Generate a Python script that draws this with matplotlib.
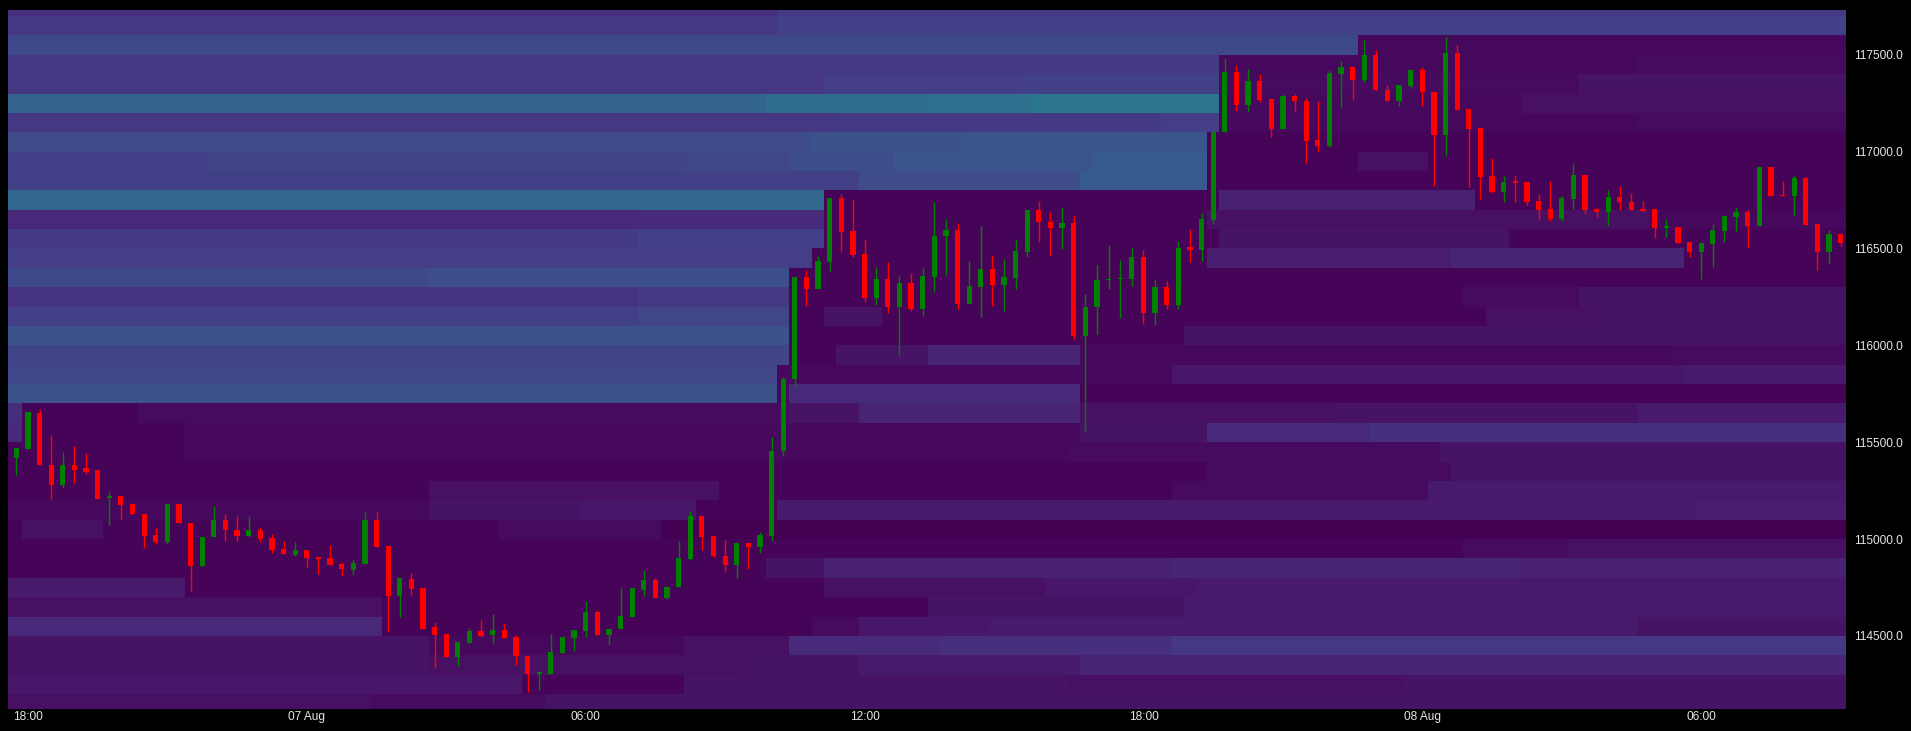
import numpy as np
import matplotlib
matplotlib.use("Agg")
import matplotlib.pyplot as plt
import matplotlib.dates as mdates
from datetime import datetime, timedelta

# ---------------- candle data (15-minute candles) ----------------
start_time = datetime(2025, 8, 6, 17, 45)
opens = [115416, 115463, 115652, 115385, 115277, 115380, 115366, 115356, 115211, 115220,
         115183, 115132, 115023, 114987, 115183, 115084, 114859, 115009, 115101, 115049,
         115015, 115049, 115008, 114951, 114920, 114946, 114903, 114904, 114873, 114842,
         114873, 115101, 114966, 114704, 114796, 114749, 114544, 114511, 114392, 114466,
         114527, 114503, 114532, 114497, 114397, 114306, 114306, 114414, 114490, 114528,
         114625, 114506, 114534, 114599, 114739, 114790, 114694, 114752, 114899, 115121,
         115015, 114914, 114864, 114980, 114958, 115018, 115453, 115825, 116352, 116290,
         116432, 116761, 116592, 116469, 116245, 116342, 116199, 116324, 116187, 116355,
         116562, 116595, 116212, 116302, 116393, 116312, 116349, 116483, 116698, 116635,
         116604, 116631, 116049, 116200, 116335, 116340, 116345, 116454, 116169, 116302,
         116207, 116509, 116493, 116648, 117100, 117410, 117241, 117366, 117272, 117117,
         117286, 117262, 117060, 117028, 117402, 117436, 117371, 117500, 117319, 117259,
         117341, 117422, 117307, 117086, 117510, 117221, 117122, 116876, 116790, 116845,
         116841, 116747, 116704, 116652, 116755, 116879, 116704, 116690, 116764, 116741,
         116704, 116704, 116607, 116609, 116531, 116483, 116523, 116590, 116664, 116690,
         116614, 116919, 116776, 116773, 116864, 116626, 116483, 116574]
highs = [115471, 115659, 115673, 115535, 115449, 115483, 115442, 115359, 115244, 115228,
         115183, 115132, 115059, 115183, 115183, 115084, 115013, 115171, 115132, 115118,
         115118, 115065, 115028, 114992, 114987, 114946, 114903, 114970, 114880, 114899,
         115142, 115142, 114966, 114797, 114825, 114749, 114571, 114511, 114470, 114540,
         114580, 114615, 114566, 114504, 114397, 114316, 114511, 114497, 114532, 114678,
         114635, 114537, 114752, 114746, 114842, 114801, 114752, 114989, 115147, 115121,
         115018, 114994, 114980, 114980, 115037, 115528, 115838, 116352, 116390, 116459,
         116761, 116781, 116755, 116549, 116407, 116428, 116359, 116376, 116397, 116742,
         116652, 116630, 116437, 116617, 116466, 116445, 116549, 116698, 116747, 116686,
         116712, 116673, 116264, 116414, 116517, 116442, 116500, 116493, 116345, 116333,
         116540, 116600, 116681, 117100, 117483, 117448, 117424, 117402, 117272, 117298,
         117298, 117276, 117259, 117422, 117466, 117436, 117578, 117526, 117345, 117345,
         117422, 117436, 117307, 117591, 117552, 117221, 117122, 116967, 116876, 116879,
         116841, 116781, 116850, 116769, 116941, 116879, 116707, 116802, 116824, 116786,
         116745, 116704, 116652, 116609, 116531, 116531, 116626, 116666, 116712, 116698,
         116919, 116919, 116850, 116879, 116867, 116626, 116597, 116574]
lows = [115333, 115463, 115380, 115209, 115263, 115290, 115337, 115209, 115075, 115096,
        115127, 114953, 114977, 114973, 115082, 114734, 114859, 115009, 114989, 114989,
        115011, 114985, 114928, 114921, 114911, 114854, 114820, 114868, 114811, 114816,
        114870, 114959, 114523, 114596, 114713, 114537, 114337, 114389, 114346, 114466,
        114497, 114459, 114492, 114351, 114211, 114222, 114306, 114414, 114423, 114494,
        114506, 114451, 114534, 114599, 114708, 114694, 114690, 114752, 114894, 114946,
        114906, 114828, 114799, 114846, 114928, 114989, 115428, 115790, 116204, 116290,
        116385, 116480, 116454, 116224, 116207, 116169, 115950, 116178, 116149, 116273,
        116362, 116187, 116212, 116147, 116204, 116178, 116290, 116454, 116531, 116462,
        116497, 116031, 115557, 116057, 116290, 116143, 116304, 116109, 116104, 116190,
        116190, 116431, 116437, 116626, 117100, 117212, 117207, 117255, 117074, 117117,
        117207, 116941, 116997, 117022, 117224, 117264, 117359, 117316, 117259, 117233,
        117328, 117233, 116824, 116979, 117216, 116819, 116755, 116785, 116738, 116738,
        116724, 116647, 116643, 116643, 116704, 116678, 116664, 116614, 116698, 116700,
        116690, 116554, 116557, 116528, 116454, 116342, 116407, 116531, 116583, 116502,
        116614, 116773, 116769, 116666, 116621, 116390, 116419, 116514]
closes = [115468, 115656, 115380, 115277, 115380, 115359, 115347, 115209, 115220, 115178,
          115127, 115018, 114985, 115183, 115082, 114859, 115013, 115101, 115046, 115015,
          115049, 115003, 114946, 114921, 114946, 114901, 114899, 114868, 114846, 114877,
          115101, 114959, 114704, 114797, 114744, 114537, 114506, 114392, 114470, 114527,
          114501, 114532, 114492, 114394, 114306, 114313, 114418, 114497, 114532, 114625,
          114506, 114537, 114604, 114746, 114790, 114694, 114752, 114902, 115121, 115011,
          114911, 114864, 114980, 114958, 115023, 115457, 115828, 116352, 116293, 116437,
          116761, 116586, 116466, 116245, 116342, 116199, 116324, 116187, 116359, 116562,
          116595, 116212, 116304, 116393, 116312, 116352, 116486, 116698, 116635, 116604,
          116631, 116049, 116200, 116337, 116342, 116347, 116454, 116169, 116302, 116207,
          116505, 116493, 116652, 117100, 117410, 117241, 117366, 117267, 117117, 117286,
          117259, 117057, 117031, 117407, 117436, 117371, 117500, 117316, 117259, 117345,
          117422, 117307, 117086, 117510, 117216, 117117, 116871, 116790, 116841, 116838,
          116742, 116698, 116652, 116760, 116879, 116698, 116690, 116764, 116738, 116700,
          116695, 116605, 116612, 116528, 116483, 116526, 116595, 116666, 116690, 116614,
          116919, 116773, 116769, 116864, 116621, 116483, 116574, 116528]

# ---------------- order-book heatmap (100-USD price bins, one column per candle) ----------------
# each row: price bin lower edge -> list of (first candle column, intensity) segments
heat_bin_size = 100
heat_first_col = -1
heat_last_col = 157
heat_rows = {
    117700: [(-1, .13), (66, .17)],
    117600: [(-1, .16), (66, .19)],
    117500: [(-1, .22), (116, .02)],
    117400: [(-1, .17), (104, .02), (140, .03)],
    117300: [(-1, .16), (70, .18), (87, .19), (104, .03), (135, .05)],
    117200: [(-1, .32), (65, .35), (79, .37), (88, .39), (104, .02), (130, .04)],
    117100: [(-1, .16), (71, .17), (99, .18), (104, .02), (140, .03)],
    117000: [(-1, .23), (69, .25), (82, .26), (103, .01)],
    116900: [(-1, .19), (17, .20), (58, .21), (67, .24), (76, .26), (93, .28), (103, .01), (116, .04), (122, .01)],
    116800: [(-1, .19), (73, .23), (92, .28), (103, .01)],
    116700: [(-1, .33), (70, .01), (104, .09), (126, .01)],
    116600: [(-1, .11), (54, .12), (70, .01), (103, .04), (141, .02)],
    116500: [(-1, .17), (54, .19), (70, .01), (104, .05), (129, .01)],
    116400: [(-1, .18), (69, .01), (103, .08), (124, .10), (144, .01)],
    116300: [(-1, .22), (36, .24), (67, .01)],
    116200: [(-1, .15), (54, .17), (67, .01), (125, .03), (135, .05)],
    116100: [(-1, .19), (54, .21), (67, .01), (70, .05), (75, .01), (127, .04), (136, .05)],
    116000: [(-1, .25), (67, .01), (101, .05)],
    115900: [(-1, .20), (67, .01), (71, .05), (79, .10), (92, .02), (143, .03)],
    115800: [(-1, .21), (66, .02), (100, .06), (144, .07)],
    115700: [(-1, .25), (66, .02), (67, .12), (92, .01)],
    115600: [(-1, .13), (1, .01), (11, .03), (67, .05), (73, .10), (92, .04), (114, .05), (140, .07)],
    115500: [(-1, .12), (1, .01), (15, .02), (92, .05), (103, .12), (117, .14)],
    115400: [(-1, .01), (15, .02), (91, .03), (123, .05)],
    115300: [(-1, .01), (103, .03), (124, .05)],
    115200: [(-1, .01), (36, .04), (61, .01), (100, .03), (122, .07)],
    115100: [(-1, .02), (36, .05), (49, .06), (59, .01), (66, .07), (145, .08)],
    115000: [(-1, .01), (1, .04), (8, .01), (42, .03), (56, .0)],
    114900: [(-1, .01), (125, .03), (134, .04)],
    114800: [(-1, .01), (65, .05), (70, .09), (100, .10), (130, .09)],
    114700: [(-1, .07), (15, .01), (70, .04), (89, .06), (102, .07)],
    114600: [(-1, .04), (32, .01), (79, .05), (101, .07)],
    114500: [(-1, .11), (32, .01), (69, .03), (73, .06), (84, .07), (140, .05)],
    114400: [(-1, .05), (36, .02), (58, .04), (67, .12), (80, .14), (100, .16)],
    114300: [(-1, .05), (36, .04), (63, .05), (73, .07), (92, .10)],
    114200: [(-1, .06), (44, .01), (58, .05), (91, .04), (120, .05)],
    114100: [(-1, .04), (31, .03), (46, .05)],
}

# axis ticks
y_ticks = [114500, 115000, 115500, 116000, 116500, 117000, 117500]
x_tick_times = [datetime(2025, 8, 6, 18), datetime(2025, 8, 7, 0), datetime(2025, 8, 7, 6),
                datetime(2025, 8, 7, 12), datetime(2025, 8, 7, 18), datetime(2025, 8, 8, 0),
                datetime(2025, 8, 8, 6)]
x_tick_labels = ['18:00', '07 Aug', '06:00', '12:00', '18:00', '08 Aug', '06:00']

# ---------------- build ----------------
n = len(opens)
step = timedelta(minutes=15)
times = [start_time + i * step for i in range(n)]
xnum = mdates.date2num(times)
dstep = 15.0 / 1440.0

ncols = heat_last_col - heat_first_col + 1
row_keys = sorted(heat_rows.keys())
Z = np.zeros((len(row_keys), ncols))
for r, key in enumerate(row_keys):
    segs = heat_rows[key]
    for k, (s, v) in enumerate(segs):
        e = segs[k + 1][0] if k + 1 < len(segs) else heat_last_col + 1
        Z[r, s - heat_first_col:e - heat_first_col] = v
x_edges = mdates.date2num(start_time) + (np.arange(heat_first_col, heat_last_col + 2) - 0.5) * dstep
y_edges = np.array(row_keys + [row_keys[-1] + heat_bin_size], dtype=float)

W, H, DPI = 1911, 731, 100
fig = plt.figure(figsize=(W / DPI, H / DPI), dpi=DPI, facecolor='black')
ax = fig.add_axes([8 / W, (H - 709) / H, (1846 - 8) / W, (709 - 10) / H])
ax.set_facecolor('black')

ax.pcolormesh(x_edges, y_edges, Z, cmap='viridis', vmin=0, vmax=1, shading='flat',
              antialiased=False, linewidth=0, zorder=1)

o = np.array(opens, float); c = np.array(closes, float)
h = np.array(highs, float); l = np.array(lows, float)
up = c >= o
colors = np.where(up, '#008000', '#ff0000')
ax.vlines(xnum, l, h, colors=colors, linewidth=1.0, zorder=2)
body_bottom = np.minimum(o, c)
body_h = np.maximum(np.abs(c - o), 8)
ax.bar(xnum, body_h, bottom=body_bottom, width=dstep * 0.45, color=colors,
       linewidth=0, zorder=3)

ax.set_xlim(xnum[0] - 0.714 * dstep, xnum[0] + 157.46 * dstep)
ax.set_ylim(114123, 117731)

ax.yaxis.tick_right()
ax.set_yticks(y_ticks)
ax.set_yticklabels([f'{v:.1f}' for v in y_ticks])
ax.set_xticks(mdates.date2num(x_tick_times))
ax.set_xticklabels(x_tick_labels)
for lab in ax.get_xticklabels() + ax.get_yticklabels():
    lab.set_fontfamily('Liberation Sans')
    lab.set_fontsize(8.6)
    lab.set_color('#e6e6e6')
ax.tick_params(axis='y', length=0, pad=6)
ax.tick_params(axis='x', length=0, pad=1.5)
for sp in ax.spines.values():
    sp.set_visible(False)

fig.savefig('out.png', dpi=DPI, facecolor='black')
